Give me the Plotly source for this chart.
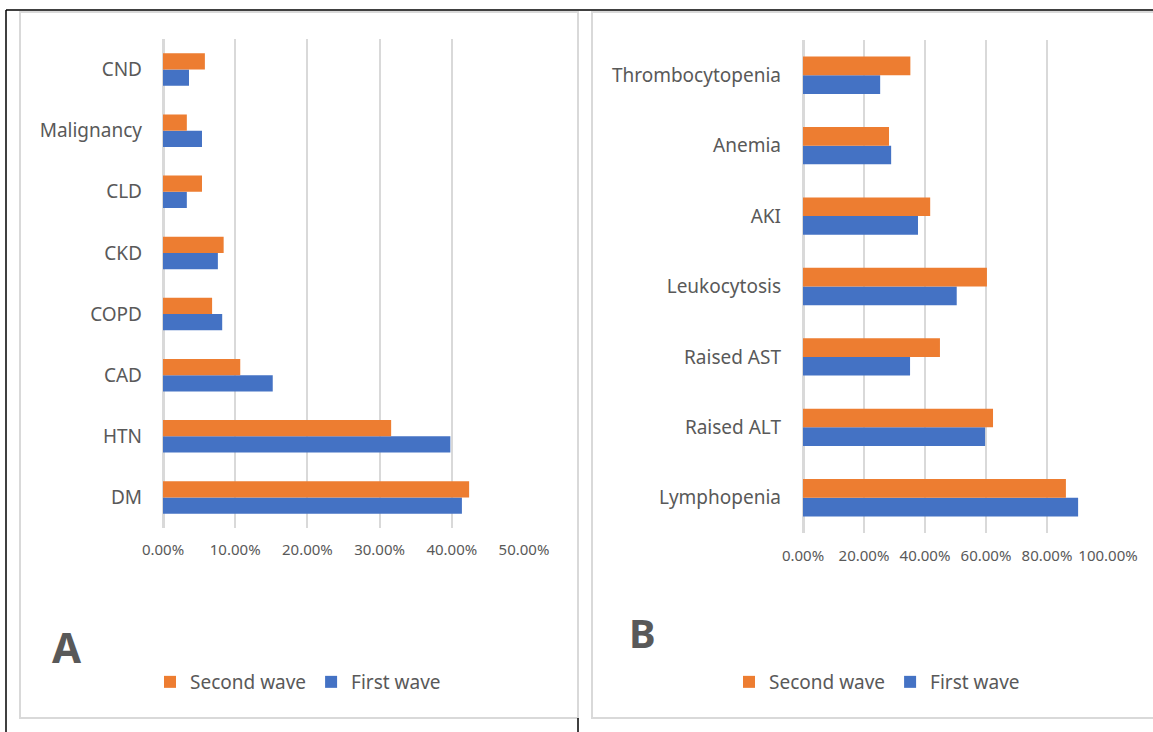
import plotly.graph_objects as go

W, H = 1153, 732

# ---- Data ----
comorb = ["DM", "HTN", "CAD", "COPD", "CKD", "CLD", "Malignancy", "CND"]
comorb_first = [0.414, 0.398, 0.152, 0.082, 0.076, 0.033, 0.054, 0.036]
comorb_second = [0.424, 0.316, 0.107, 0.068, 0.084, 0.054, 0.033, 0.058]

labs = ["Lymphopenia", "Raised ALT", "Raised AST", "Leukocytosis", "AKI", "Anemia", "Thrombocytopenia"]
labs_first = [0.902, 0.597, 0.351, 0.504, 0.377, 0.289, 0.253]
labs_second = [0.862, 0.623, 0.449, 0.603, 0.417, 0.282, 0.352]

ticks_a = [0, 0.1, 0.2, 0.3, 0.4, 0.5]
ticks_b = [0, 0.2, 0.4, 0.6, 0.8, 1.0]

series_names = ["First wave", "Second wave"]
BLUE, ORANGE = "#4472C4", "#ED7D31"
TXT = "#595959"
GRID = "#D9D9D9"
FONT = "Noto Sans"


def px(x):
    return x / W


def py(y):
    return 1 - y / H


fig = go.Figure()

fig.add_trace(go.Bar(y=comorb, x=comorb_first, orientation="h", name=series_names[0],
                     marker=dict(color=BLUE, line=dict(width=0)), xaxis="x", yaxis="y",
                     legend="legend"))
fig.add_trace(go.Bar(y=comorb, x=comorb_second, orientation="h", name=series_names[1],
                     marker=dict(color=ORANGE, line=dict(width=0)), xaxis="x", yaxis="y",
                     legend="legend"))
fig.add_trace(go.Bar(y=labs, x=labs_first, orientation="h", name=series_names[0],
                     marker=dict(color=BLUE, line=dict(width=0)), xaxis="x2", yaxis="y2",
                     legend="legend2"))
fig.add_trace(go.Bar(y=labs, x=labs_second, orientation="h", name=series_names[1],
                     marker=dict(color=ORANGE, line=dict(width=0)), xaxis="x2", yaxis="y2",
                     legend="legend2"))

xcommon = dict(showgrid=True, gridcolor=GRID, gridwidth=1.5, zeroline=True, zerolinecolor=GRID,
               zerolinewidth=2.5, showline=False, ticks="", tickformat=".2%", tickangle=0,
               automargin=False,
               tickfont=dict(family=FONT, size=15, color=TXT), fixedrange=True)
ycommon = dict(type="category", showgrid=False, zeroline=False, showline=False, ticks="",
               automargin=False, tickfont=dict(family=FONT, size=19, color=TXT))

fig.update_layout(
    width=W, height=H,
    margin=dict(l=0, r=0, t=0, b=0, pad=0, autoexpand=False),
    paper_bgcolor="white", plot_bgcolor="white",
    barmode="group", bargap=0.47, bargroupgap=0,
    showlegend=True,
    xaxis=dict(domain=[px(163), px(524)], range=[0, 0.5], tickvals=ticks_a, anchor="y",
               ticklabelstandoff=11, **xcommon),
    yaxis=dict(domain=[py(528), py(39)], anchor="x", categoryorder="array", categoryarray=comorb,
               ticklabelstandoff=20, **ycommon),
    xaxis2=dict(domain=[px(803), px(1108)], range=[0, 1.0], tickvals=ticks_b, anchor="y2",
                ticklabelstandoff=12, **xcommon),
    yaxis2=dict(domain=[py(533), py(40)], anchor="x2", categoryorder="array", categoryarray=labs,
                ticklabelstandoff=21, **ycommon),
    legend=dict(orientation="h", traceorder="reversed", x=px(150), y=py(682), xanchor="left", yanchor="middle",
                font=dict(family=FONT, size=19, color=TXT), itemwidth=30, bgcolor="rgba(0,0,0,0)"),
    legend2=dict(orientation="h", traceorder="reversed", x=px(729), y=py(682), xanchor="left", yanchor="middle",
                 font=dict(family=FONT, size=19, color=TXT), itemwidth=30, bgcolor="rgba(0,0,0,0)"),
)

# panel frames and outer lines
shapes = [
    dict(type="rect", x0=px(20), x1=px(578), y0=py(718), y1=py(12), line=dict(color=GRID, width=2)),
    dict(type="rect", x0=px(592), x1=px(1160), y0=py(718), y1=py(12), line=dict(color=GRID, width=2)),
    dict(type="line", x0=px(6), x1=1, y0=py(10), y1=py(10), line=dict(color="black", width=1.5)),
    dict(type="line", x0=px(6), x1=px(6), y0=py(10), y1=0, line=dict(color="black", width=1.5)),
    dict(type="line", x0=px(578), x1=px(578), y0=py(718), y1=0, line=dict(color="black", width=1.5)),
]
for s in shapes:
    s.update(xref="paper", yref="paper", layer="below")
fig.update_layout(shapes=shapes)

fig.add_annotation(text="<b>A</b>", x=px(67), y=py(646), xref="paper", yref="paper", showarrow=False,
                   font=dict(family=FONT, size=42, color=TXT), xanchor="center", yanchor="middle")
fig.add_annotation(text="<b>B</b>", x=px(643), y=py(632), xref="paper", yref="paper", showarrow=False,
                   font=dict(family=FONT, size=40, color=TXT), xanchor="center", yanchor="middle")

fig.write_html("out.html", config={"displayModeBar": False},
               post_script="document.body.style.margin='0px';document.body.style.overflow='hidden';")
